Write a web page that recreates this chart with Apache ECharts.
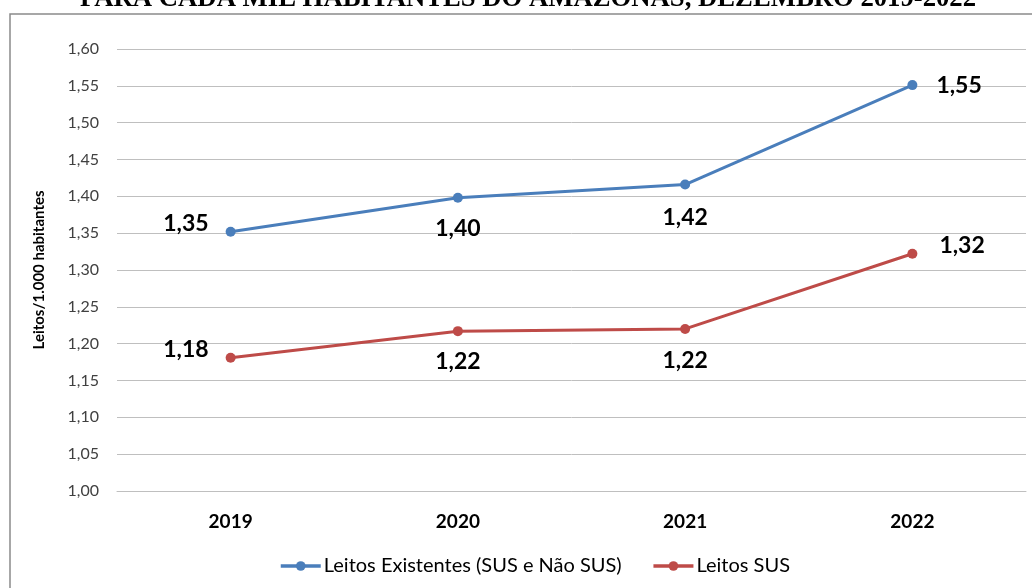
<!DOCTYPE html>
<html>
<head>
<meta charset="utf-8">
<script src="https://cdn.jsdelivr.net/npm/echarts@6/dist/echarts.min.js"></script>
<style>
  html, body { margin: 0; padding: 0; background: #fff; }
  #chart { width: 1032px; height: 588px; }
</style>
</head>
<body>
<div id="chart"></div>
<script>
// anos e valores (leitos por mil habitantes)
var anos = ['2019', '2020', '2021', '2022'];
var leitosExistentes = [1.352, 1.398, 1.416, 1.551];
var leitosSUS = [1.181, 1.217, 1.220, 1.322];
var yTicks = { min: 1.0, max: 1.6, step: 0.05 };

var azul = '#4a7ebb';
var vermelho = '#be4b48';

// onde fica o rótulo de cada ponto
function rotulos(valores, lados) {
  return valores.map(function (v, i) {
    var l = lados[i];
    return {
      value: v,
      label: { position: l[0], distance: l[1], offset: l[2] }
    };
  });
}

var myChart = echarts.init(document.getElementById('chart'));
myChart.setOption({
  animation: false,
  title: {
    text: 'PARA CADA MIL HABITANTES DO AMAZONAS, DEZEMBRO 2019-2022',
    left: 75,
    top: -19,
    textStyle: {
      fontFamily: 'Liberation Serif',
      fontWeight: 'bold',
      fontSize: 26.7,
      color: '#000'
    }
  },
  graphic: [{
    type: 'rect',
    shape: { x: 10, y: 14, width: 1060, height: 620 },
    style: { fill: 'none', stroke: '#8a8a8a', lineWidth: 1.5 },
    silent: true
  }],
  grid: { left: 117, right: 6, top: 49, bottom: 97 },
  legend: {
    left: 274,
    top: 551,
    itemWidth: 40,
    itemHeight: 12,
    itemGap: 30,
    lineStyle: { width: 3.5 },
    textStyle: { fontFamily: 'Lato', fontSize: 20, color: '#000', padding: [0, 0, 0, -2] },
    data: ['Leitos Existentes (SUS e Não SUS)', 'Leitos SUS']
  },
  xAxis: {
    type: 'category',
    data: anos,
    boundaryGap: true,
    axisLine: { lineStyle: { color: '#bfbfbf', width: 1 } },
    axisTick: { show: false },
    axisLabel: { margin: 21, fontFamily: 'Lato', fontWeight: 'bold', fontSize: 19, color: '#000' }
  },
  yAxis: {
    type: 'value',
    min: yTicks.min,
    max: yTicks.max,
    interval: yTicks.step,
    name: 'Leitos/1.000 habitantes',
    nameLocation: 'middle',
    nameGap: 70,
    nameRotate: 90,
    nameTextStyle: { fontFamily: 'Lato', fontWeight: 'bold', fontSize: 15, color: '#000' },
    axisLine: { show: false },
    axisTick: { show: false },
    splitLine: { lineStyle: { color: '#bfbfbf', width: 1 } },
    axisLabel: {
      margin: 18,
      fontFamily: 'Lato',
      fontSize: 16,
      color: '#404040',
      formatter: function (v) { return v.toFixed(2).replace('.', ','); }
    }
  },
  series: [
    {
      name: 'Leitos Existentes (SUS e Não SUS)',
      type: 'line',
      data: rotulos(leitosExistentes, [
        ['left', 17, [0, -8]], ['bottom', 14, [0, 0]], ['bottom', 17, [0, 0]], ['right', 19, [0, 0]]
      ]),
      symbol: 'circle',
      symbolSize: 10,
      lineStyle: { color: azul, width: 3 },
      itemStyle: { color: azul },
      label: {
        show: true,
        fontFamily: 'Lato',
        fontWeight: 'bold',
        fontSize: 23,
        color: '#000',
        formatter: function (p) { return p.value.toFixed(2).replace('.', ','); }
      }
    },
    {
      name: 'Leitos SUS',
      type: 'line',
      data: rotulos(leitosSUS, [
        ['left', 17, [0, -8]], ['bottom', 14, [0, 0]], ['bottom', 15, [0, 0]], ['right', 22, [0, -8]]
      ]),
      symbol: 'circle',
      symbolSize: 10,
      lineStyle: { color: vermelho, width: 3 },
      itemStyle: { color: vermelho },
      label: {
        show: true,
        fontFamily: 'Lato',
        fontWeight: 'bold',
        fontSize: 23,
        color: '#000',
        formatter: function (p) { return p.value.toFixed(2).replace('.', ','); }
      }
    }
  ]
});
</script>
</body>
</html>
